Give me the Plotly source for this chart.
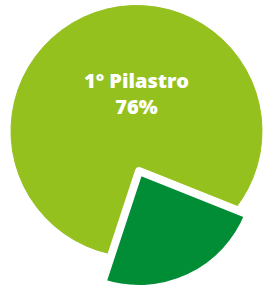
import plotly.graph_objects as go

# Data
labels = ["1° Pilastro", "2° Pilastro"]
values = [76, 24]

LIGHT = "#95C11F"
DARK = "#008D36"

W, H = 263, 289

def dom_x(cx, r):
    return [(cx - r) / W, (cx + r) / W]

def dom_y(cy, r):
    return [1 - (cy + r) / H, 1 - (cy - r) / H]

fig = go.Figure()

# full light disc (base of the chart)
fig.add_trace(go.Pie(
    labels=labels, values=values, sort=False, direction="clockwise",
    rotation=198.2,
    marker=dict(colors=[LIGHT, LIGHT], line=dict(color=LIGHT, width=1)),
    textinfo="none", hoverinfo="label+percent",
    domain=dict(x=dom_x(136.5, 125.5), y=dom_y(131, 125.5)),
))

# exploded dark slice
fig.add_trace(go.Pie(
    labels=labels, values=values, sort=False, direction="clockwise",
    rotation=198.2,
    marker=dict(colors=["rgba(0,0,0,0)", DARK],
                line=dict(color="white", width=[0, 8])),
    textinfo="none", hoverinfo="label+percent",
    domain=dict(x=dom_x(139, 118), y=dom_y(171, 118)),
))

fig.add_annotation(
    x=136.5 / W, y=1 - 93 / H, xref="paper", yref="paper",
    text=f"{labels[0]}<br>{values[0]}%", showarrow=False,
    font=dict(family="Open Sans", size=20, color="white", weight=800),
    xanchor="center", yanchor="middle",
)

fig.update_layout(
    width=W, height=H, margin=dict(l=0, r=0, t=0, b=0),
    paper_bgcolor="white", plot_bgcolor="white", showlegend=False,
)

fig.write_html(
    "out.html",
    config={"displayModeBar": False},
    post_script="document.body.style.margin='0';document.body.style.overflow='hidden';",
)
